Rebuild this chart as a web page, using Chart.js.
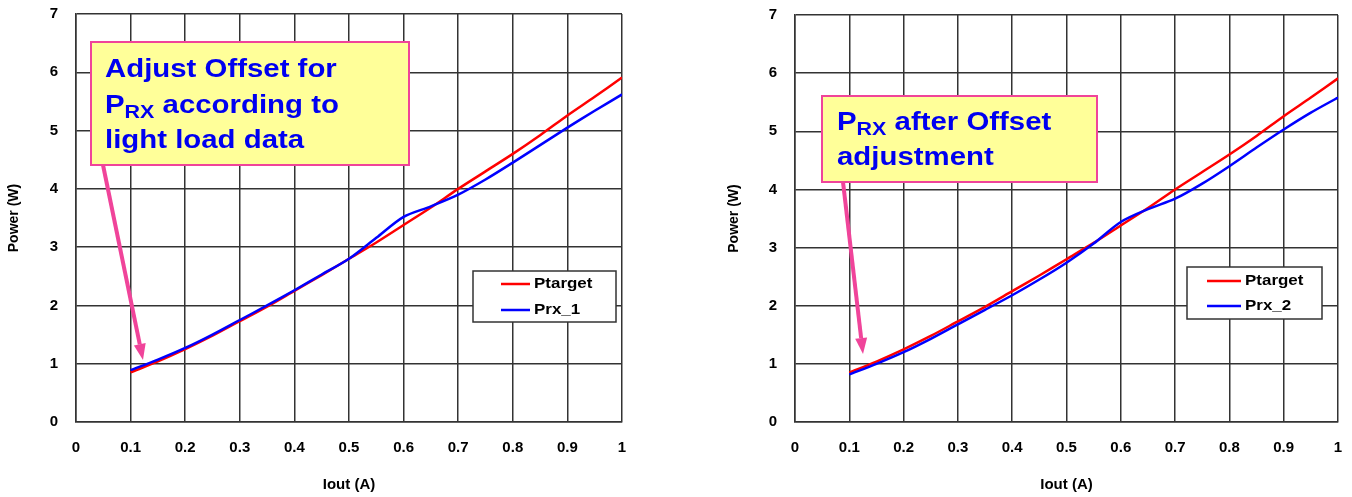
<!DOCTYPE html>
<html>
<head>
<meta charset="utf-8">
<script src="https://cdn.jsdelivr.net/npm/chart.js@4.4.1/dist/chart.umd.min.js"></script>
<style>
  body { margin: 0; background: #fff; }
  #wrap { position: relative; width: 1352px; height: 497px; }
  canvas { position: absolute; top: 0; }
</style>
</head>
<body>
<div id="wrap">
  <canvas id="leftChart" width="680" height="497" style="left:0"></canvas>
  <canvas id="rightChart" width="676" height="497" style="left:676px"></canvas>
</div>
<script>
// Iout (A) sample points
const iout = [0.1, 0.15, 0.2, 0.25, 0.3, 0.35, 0.4, 0.45, 0.5, 0.55, 0.6, 0.65, 0.7, 0.75, 0.8, 0.85, 0.9, 0.95, 1.0];

// Power (W)
const ptarget = [0.85, 1.04, 1.25, 1.48, 1.73, 1.98, 2.25, 2.52, 2.80, 3.08, 3.38, 3.68, 4.00, 4.30, 4.60, 4.92, 5.26, 5.58, 5.91];
const prx1 = [0.89, 1.07, 1.27, 1.50, 1.75, 2.00, 2.26, 2.53, 2.80, 3.16, 3.52, 3.70, 3.90, 4.16, 4.45, 4.75, 5.05, 5.34, 5.62];
const prx2 = [0.82, 1.00, 1.20, 1.43, 1.68, 1.93, 2.18, 2.45, 2.74, 3.07, 3.44, 3.66, 3.84, 4.10, 4.40, 4.72, 5.03, 5.32, 5.58];

const xTickLabels = ['0', '0.1', '0.2', '0.3', '0.4', '0.5', '0.6', '0.7', '0.8', '0.9', '1'];
const yTickLabels = ['0', '1', '2', '3', '4', '5', '6', '7'];

const FONT = '"Liberation Sans", Arial, sans-serif';
const PINK = '#f0449a';
const STRETCH = 1.13; // source text looks a bit wide

function pts(ys) {
  return iout.map((x, i) => ({ x: x, y: ys[i] }));
}

function wideText(ctx, txt, x, y) {
  ctx.save();
  ctx.translate(x, y);
  ctx.scale(STRETCH, 1);
  ctx.fillText(txt, 0, 0);
  ctx.restore();
  return ctx.measureText(txt).width * STRETCH;
}

// legend box drawn inside the plot
const boxLegend = {
  id: 'boxLegend',
  afterDraw(chart, args, opts) {
    const ctx = chart.ctx;
    ctx.save();
    ctx.fillStyle = '#fff';
    ctx.strokeStyle = '#333';
    ctx.lineWidth = 1.5;
    ctx.fillRect(opts.x, opts.y, opts.w, opts.h);
    ctx.strokeRect(opts.x, opts.y, opts.w, opts.h);
    ctx.font = 'bold 15px ' + FONT;
    ctx.textBaseline = 'middle';
    chart.data.datasets.forEach((ds, i) => {
      const yy = opts.rows[i];
      ctx.strokeStyle = ds.borderColor;
      ctx.lineWidth = 2.5;
      ctx.beginPath();
      ctx.moveTo(opts.lx1, yy);
      ctx.lineTo(opts.lx2, yy);
      ctx.stroke();
      ctx.fillStyle = '#000';
      wideText(ctx, ds.label, opts.tx, yy);
    });
    ctx.restore();
  }
};

// yellow callout with arrow
const callout = {
  id: 'callout',
  afterDraw(chart, args, opts) {
    const ctx = chart.ctx;
    ctx.save();
    // arrow
    const [x1, y1, x2, y2] = opts.arrow;
    const ang = Math.atan2(y2 - y1, x2 - x1);
    const hl = 16, hw = 6;
    ctx.strokeStyle = PINK;
    ctx.fillStyle = PINK;
    ctx.lineWidth = 4;
    ctx.beginPath();
    ctx.moveTo(x1, y1);
    ctx.lineTo(x2 - hl * Math.cos(ang), y2 - hl * Math.sin(ang));
    ctx.stroke();
    ctx.beginPath();
    ctx.moveTo(x2, y2);
    ctx.lineTo(x2 - hl * Math.cos(ang) + hw * Math.sin(ang), y2 - hl * Math.sin(ang) - hw * Math.cos(ang));
    ctx.lineTo(x2 - hl * Math.cos(ang) - hw * Math.sin(ang), y2 - hl * Math.sin(ang) + hw * Math.cos(ang));
    ctx.closePath();
    ctx.fill();
    // box
    ctx.fillStyle = '#ffff99';
    ctx.fillRect(opts.x, opts.y, opts.w, opts.h);
    ctx.strokeStyle = PINK;
    ctx.lineWidth = 2;
    ctx.strokeRect(opts.x, opts.y, opts.w, opts.h);
    // text, segments: [text, isSub]
    ctx.fillStyle = '#0000f0';
    ctx.textBaseline = 'alphabetic';
    opts.lines.forEach((segs, i) => {
      let xx = opts.tx;
      const base = opts.baselines[i];
      segs.forEach(s => {
        ctx.font = s[1] ? 'bold 19px ' + FONT : 'bold 26px ' + FONT;
        xx += wideText(ctx, s[0], xx, s[1] ? base + 5 : base);
      });
    });
    ctx.restore();
  }
};

function makeChart(id, rxLabel, rxData, pad, yWidth, legend, note) {
  return new Chart(document.getElementById(id), {
    type: 'line',
    data: {
      datasets: [{
        label: 'Ptarget',
        data: pts(ptarget),
        borderColor: '#ff0000',
        backgroundColor: '#ff0000',
        borderWidth: 2.5,
        pointRadius: 0,
        tension: 0.3,
        fill: false,
        order: 1
      },
      {
        label: rxLabel,
        data: pts(rxData),
        borderColor: '#0000ff',
        backgroundColor: '#0000ff',
        borderWidth: 2.5,
        pointRadius: 0,
        tension: 0.3,
        fill: false,
        order: 0
      }]
    },
    options: {
      responsive: false,
      animation: false,
      devicePixelRatio: 1,
      layout: { padding: pad },
      plugins: {
        legend: { display: false },
        tooltip: { enabled: false },
        boxLegend: legend,
        callout: note
      },
      scales: {
        x: {
          type: 'linear',
          min: 0,
          max: 1,
          afterFit(s) { s.height = 75; },
          ticks: {
            stepSize: 0.1,
            padding: 0,
            color: '#000',
            font: { family: FONT, size: 15, weight: 'bold' },
            callback: (v, i) => xTickLabels[i]
          },
          grid: { color: '#333', lineWidth: 1.5, drawTicks: true, tickLength: 17, tickColor: 'rgba(0,0,0,0)' },
          border: { color: '#333', width: 1.5 },
          title: {
            display: true,
            text: 'Iout (A)',
            color: '#000',
            font: { family: FONT, size: 15, weight: 'bold' },
            padding: { top: 0, bottom: 3 }
          }
        },
        y: {
          min: 0,
          max: 7,
          afterFit(s) { s.width = yWidth; },
          ticks: {
            stepSize: 1,
            padding: 0,
            color: '#000',
            font: { family: FONT, size: 15, weight: 'bold' },
            callback: (v, i) => yTickLabels[i]
          },
          grid: { color: '#333', lineWidth: 1.5, drawTicks: true, tickLength: 18, tickColor: 'rgba(0,0,0,0)' },
          border: { color: '#333', width: 1.5 },
          title: {
            display: true,
            text: 'Power (W)',
            color: '#000',
            font: { family: FONT, size: 14, weight: 'bold' },
            padding: { top: 6, bottom: 0 }
          }
        }
      }
    },
    plugins: [boxLegend, callout]
  });
}

makeChart('leftChart', 'Prx_1', prx1,
  { left: 0, right: 58, top: 14, bottom: 0 }, 76,
  { x: 473, y: 271, w: 143, h: 51, lx1: 501, lx2: 530, tx: 534, rows: [284, 310] },
  {
    x: 91, y: 42, w: 318, h: 123, tx: 105, baselines: [77, 113, 148],
    lines: [[['Adjust Offset for', false]], [['P', false], ['RX', true], [' according to', false]], [['light load data', false]]],
    arrow: [103, 165, 143, 360]
  });

makeChart('rightChart', 'Prx_2', prx2,
  { left: 44, right: 14, top: 15, bottom: 0 }, 75,
  { x: 511, y: 267, w: 135, h: 52, lx1: 531, lx2: 565, tx: 569, rows: [281, 306] },
  {
    x: 146, y: 96, w: 275, h: 86, tx: 161, baselines: [130, 165],
    lines: [[['P', false], ['RX', true], [' after Offset', false]], [['adjustment', false]]],
    arrow: [167, 182, 187, 354]
  });
</script>
</body>
</html>
